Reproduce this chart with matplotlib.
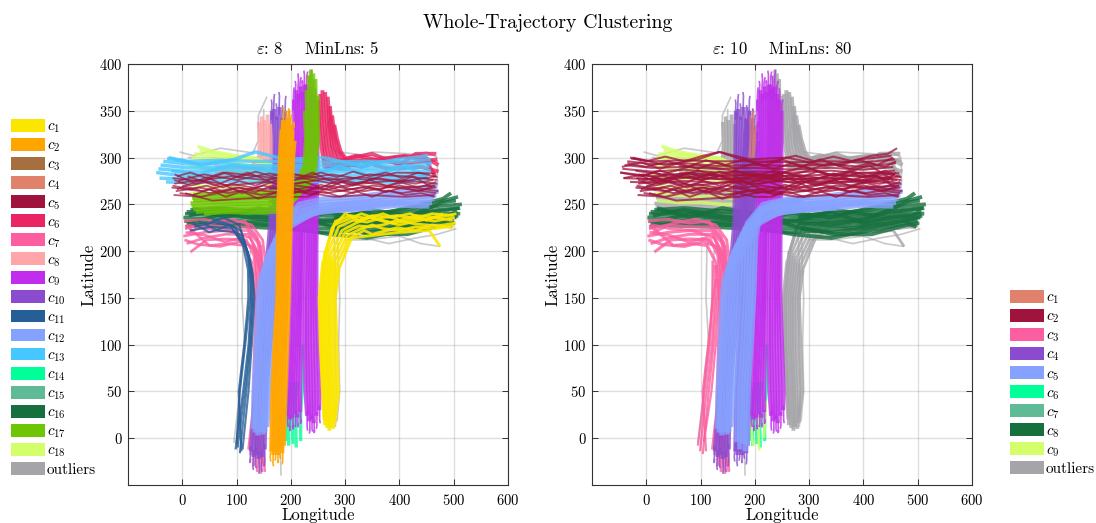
import matplotlib
matplotlib.use("Agg")
import matplotlib.pyplot as plt
from matplotlib.patches import Patch

plt.rcParams['font.family'] = ['cmr10', 'DejaVu Serif']
plt.rcParams['mathtext.fontset'] = 'cm'
plt.rcParams['axes.formatter.use_mathtext'] = True
plt.rcParams['axes.unicode_minus'] = False

# trajectories, (longitude, latitude)
magenta_a = [
    [(206, 362), (207, 300), (204, 200), (202, 150), (199, 100), (195, 50), (194, 24)],
    [(210, 372), (211, 300), (208, 200), (206, 150), (203, 100), (199, 50), (198, 20)],
    [(214, 368), (214, 300), (212, 200), (210, 150), (207, 100), (203, 50), (203, 22)],
    [(218, 376), (218, 300), (216, 200), (214, 150), (211, 100), (207, 50), (208, 26)],
    [(222, 370), (222, 300), (219, 200), (217, 150), (215, 100), (212, 50), (212, 22)],
    [(226, 378), (225, 300), (222, 200), (220, 150), (219, 100), (217, 50), (217, 28)],
]
magenta_b = [
    [(229, 378), (229, 300), (228, 200), (226, 150), (226, 100), (227, 50), (230, 24)],
    [(233, 374), (233, 300), (232, 200), (230, 150), (230, 100), (232, 50), (234, 18)],
    [(237, 376), (237, 300), (236, 200), (235, 150), (235, 100), (237, 50), (238, 20)],
    [(241, 368), (241, 300), (240, 200), (239, 150), (240, 100), (242, 50), (242, 16)],
    [(245, 362), (245, 300), (244, 200), (243, 150), (245, 100), (247, 50), (247, 24)],
    [(249, 350), (249, 300), (247, 200), (247, 150), (250, 100), (253, 50), (252, 30)],
]
magenta_tips = [
    [(204, 350), (205, 368), (206, 375)], [(208, 362), (209, 378), (208, 382)],
    [(212, 358), (214, 384), (213, 390)], [(216, 362), (217, 380), (219, 386)],
    [(220, 362), (221, 382), (222, 379)], [(224, 366), (225, 388), (224, 393)],
    [(228, 366), (229, 386), (231, 392)], [(232, 362), (233, 382), (232, 387)],
    [(236, 366), (237, 388), (238, 394)], [(240, 358), (241, 378), (243, 382)],
    [(244, 350), (246, 368), (245, 374)], [(249, 340), (250, 358), (252, 362)],
    [(195, 30), (194, 18), (195, 12)], [(199, 25), (198, 8), (199, 14)],
    [(204, 26), (204, 10), (205, 14)], [(209, 28), (209, 15), (208, 12)],
    [(213, 26), (213, 12), (214, 16)], [(218, 30), (218, 16), (219, 20)],
    [(230, 30), (230, 12), (231, 8)], [(235, 22), (235, 8), (234, 5)],
    [(239, 25), (239, 10), (240, 7)], [(243, 20), (243, 6), (244, 9)],
    [(248, 28), (248, 14), (247, 10)], [(253, 35), (253, 20), (254, 16)],
]
orange_lines = [
    [(183, 330), (180, 300), (177, 250), (176, 200), (175, 150), (170, 100), (166, 50), (164, -14)],
    [(187, 340), (184, 300), (181, 250), (180, 200), (178, 150), (173, 100), (169, 50), (168, -18)],
    [(191, 336), (188, 300), (185, 250), (184, 200), (182, 150), (177, 100), (173, 50), (172, -14)],
    [(195, 342), (192, 300), (189, 250), (188, 200), (185, 150), (181, 100), (177, 50), (176, -18)],
    [(199, 334), (196, 300), (193, 250), (191, 200), (188, 150), (185, 100), (181, 50), (180, -10)],
    [(203, 328), (200, 300), (197, 250), (195, 200), (192, 150), (189, 100), (185, 50), (184, -16)],
    [(207, 318), (204, 300), (201, 250), (198, 200), (196, 150), (193, 100), (190, 50), (187, -8)],
]
orange_tips = [
    [(182, 320), (183, 340), (184, 336)], [(186, 330), (187, 350), (186, 354)],
    [(190, 325), (192, 346), (191, 350)], [(195, 330), (196, 352), (198, 348)],
    [(199, 325), (200, 342), (201, 346)], [(204, 320), (205, 338), (206, 332)],
    [(164, -5), (162, -20), (163, -25)], [(168, -8), (167, -26), (168, -30)],
    [(173, -5), (172, -20), (171, -24)], [(177, -10), (176, -26), (177, -24)],
    [(181, -2), (180, -18), (181, -22)], [(185, -5), (185, -24), (184, -28)],
]
peri_turn = [
    [(470, 270), (400, 264), (320, 258), (260, 256), (215, 250), (186, 230), (174, 190), (170, 150), (165, 100), (160, 50), (156, 12)],
    [(472, 264), (400, 260), (320, 254), (260, 252), (212, 245), (181, 224), (168, 186), (165, 150), (160, 100), (155, 50), (152, 6)],
    [(468, 260), (400, 256), (320, 252), (258, 249), (208, 241), (176, 218), (163, 184), (160, 150), (155, 100), (151, 50), (148, 4)],
    [(464, 256), (400, 253), (320, 250), (256, 246), (205, 237), (171, 212), (158, 180), (155, 150), (150, 100), (146, 50), (144, 7)],
    [(460, 252), (400, 251), (320, 247), (254, 244), (200, 233), (166, 206), (153, 176), (150, 150), (145, 100), (141, 50), (139, 3)],
    [(455, 248), (400, 249), (320, 245), (252, 242), (196, 229), (161, 200), (148, 172), (145, 150), (141, 100), (136, 50), (134, 6)],
    [(350, 246), (290, 244), (240, 240), (192, 224), (157, 194), (143, 168), (140, 150), (136, 100), (132, 50), (131, 10)],
]
peri_inner = [
    [(300, 258), (240, 252), (212, 245), (202, 215), (198, 150), (193, 100), (188, 50), (186, -8)],
    [(290, 255), (235, 250), (207, 240), (196, 212), (193, 150), (188, 100), (183, 50), (182, -14)],
    [(285, 252), (230, 248), (202, 236), (190, 208), (188, 150), (183, 100), (178, 50), (177, -6)],
    [(280, 250), (225, 246), (197, 232), (185, 205), (183, 150), (178, 100), (173, 50), (172, -12)],
    [(270, 248), (220, 244), (192, 228), (179, 200), (177, 150), (172, 100), (167, 50), (167, -4)],
]
purple_lines = [
    [(165, 350), (164, 300), (162, 230), (150, 150), (142, 100), (134, 50), (126, -14)],
    [(169, 352), (168, 300), (166, 230), (154, 150), (146, 100), (138, 50), (131, -20)],
    [(174, 344), (172, 300), (170, 230), (158, 150), (150, 100), (142, 50), (136, -18)],
    [(179, 354), (176, 300), (174, 230), (162, 150), (154, 100), (146, 50), (141, -22)],
    [(184, 342), (181, 300), (178, 230), (166, 150), (158, 100), (150, 50), (147, -20)],
    [(190, 350), (186, 300), (182, 230), (170, 150), (162, 100), (154, 50), (152, -12)],
]
purple_tips = [
    [(164, 340), (165, 358), (164, 362)], [(168, 342), (169, 364), (170, 368)],
    [(173, 340), (174, 352), (173, 358)], [(178, 345), (179, 366), (178, 370)],
    [(183, 338), (184, 350), (185, 356)], [(189, 340), (190, 362), (191, 366)],
    [(126, -8), (125, -26), (126, -22)], [(131, -12), (130, -30), (131, -34)],
    [(136, -10), (135, -28), (136, -32)], [(141, -14), (142, -34), (141, -38)],
    [(147, -12), (146, -30), (147, -36)], [(152, -6), (152, -24), (151, -30)],
]
blue_turn = [
    [(22, 226), (60, 231), (95, 226), (115, 210), (124, 180), (127, 150), (122, 100), (112, 50), (98, -12)],
    [(14, 222), (55, 226), (92, 224), (118, 204), (128, 180), (129, 150), (124, 100), (115, 50), (102, -10)],
    [(30, 232), (65, 222), (100, 220), (120, 200), (130, 175), (131, 150), (126, 100), (118, 50), (106, -16)],
    [(42, 228), (75, 236), (105, 228), (122, 195), (126, 170), (125, 150), (116, 100), (106, 50), (100, -6)],
    [(18, 230), (50, 220), (88, 228), (112, 206), (121, 180), (122, 150), (114, 100), (104, 50), (109, -14)],
    [(55, 234), (85, 229), (108, 222), (125, 190), (131, 165), (133, 150), (128, 100), (122, 50), (111, -12)],
]
pink_turn = [
    [(3, 232), (40, 234), (80, 230), (115, 232), (138, 215), (146, 180), (144, 100), (135, 30), (126, -18)],
    [(5, 224), (40, 228), (80, 226), (118, 226), (142, 210), (150, 170), (147, 100), (138, 30), (132, -30)],
    [(2, 216), (40, 220), (80, 222), (120, 222), (145, 205), (152, 160), (150, 100), (142, 30), (138, -36)],
    [(8, 208), (40, 214), (80, 218), (122, 218), (138, 200), (143, 160), (142, 100), (140, 30), (145, -38)],
    [(15, 199), (45, 212), (80, 213), (118, 212), (132, 195), (137, 160), (137, 100), (133, 30), (150, -30)],
    [(6, 228), (50, 206), (85, 208), (112, 206), (128, 188), (135, 150), (133, 100), (130, 30), (122, -12)],
    [(12, 220), (50, 230), (90, 234), (128, 228), (148, 212), (155, 180), (153, 100), (145, 30), (152, -36)],
    [(4, 212), (30, 207), (70, 205), (105, 210), (130, 205), (148, 170), (146, 120), (136, 50), (135, -22)],
    [(10, 228), (45, 224), (85, 222), (125, 214), (141, 195), (147, 150)],
    [(6, 220), (42, 217), (78, 210), (110, 214), (134, 200), (140, 150)],
]
pink_south = [
    [(122, 190), (122, 150), (117, 100), (107, 50), (95, -8)],
    [(126, 185), (126, 150), (121, 100), (111, 50), (99, -14)],
    [(130, 185), (129, 150), (124, 100), (115, 50), (104, -17)],
    [(128, 170), (123, 150), (114, 100), (104, 50), (110, -14)],
    [(133, 170), (132, 150), (128, 100), (120, 50), (106, -4)],
]
pale_lines = [
    [(141, 338), (143, 320), (141, 300), (120, 285), (60, 285)],
    [(146, 344), (148, 320), (146, 298), (120, 288), (60, 290)],
    [(151, 340), (153, 320), (152, 296), (125, 284), (60, 280)],
    [(157, 346), (158, 320), (158, 294), (130, 286), (70, 286)],
    [(162, 336), (163, 320), (163, 292), (130, 282), (70, 282)],
]
yellow_turn = [
    [(505, 240), (470, 236), (430, 238), (400, 233), (370, 240), (340, 235), (310, 238), (282, 232), (264, 200)],
    [(502, 236), (465, 232), (430, 235), (395, 238), (370, 236), (340, 231), (315, 233), (288, 226), (268, 198)],
    [(498, 233), (465, 236), (430, 232), (400, 228), (370, 232), (345, 236), (320, 230), (294, 222), (272, 195)],
    [(504, 230), (470, 227), (430, 229), (395, 233), (370, 228), (345, 226), (325, 227), (300, 220), (276, 192)],
    [(500, 227), (465, 224), (430, 226), (400, 222), (370, 224), (350, 228), (330, 224), (304, 217), (280, 188)],
    [(496, 225), (460, 228), (430, 222), (395, 225), (370, 221), (350, 218), (335, 222), (308, 214), (284, 185)],
    [(480, 240), (450, 233), (420, 240), (385, 236), (350, 238), (325, 233), (300, 240), (276, 225), (260, 190)],
    [(500, 238), (460, 240), (425, 234), (390, 230), (360, 234), (330, 240), (305, 234), (280, 228), (262, 196)],
    [(475, 205), (455, 222), (400, 220), (340, 216), (312, 214), (288, 180)],
]
yellow_south = [
    [(264, 200), (256, 150), (256, 100), (261, 50), (263, 14)],
    [(268, 198), (260, 150), (260, 100), (265, 50), (267, 11)],
    [(272, 195), (264, 150), (264, 100), (269, 50), (271, 8)],
    [(276, 192), (268, 150), (268, 100), (272, 50), (274, 12)],
    [(280, 188), (272, 150), (272, 100), (276, 50), (278, 10)],
    [(284, 185), (277, 150), (277, 100), (281, 50), (281, 16)],
    [(260, 190), (253, 150), (255, 100), (259, 50), (262, 20)],
    [(288, 180), (281, 150), (284, 100), (287, 50), (281, 22)],
]
green_lines = [
    [(229, 372), (231, 320), (228, 290), (205, 264), (150, 263), (90, 262), (20, 260)],
    [(233, 388), (235, 320), (232, 288), (208, 260), (150, 260), (90, 259), (18, 257)],
    [(237, 394), (239, 320), (235, 285), (210, 257), (150, 257), (90, 256), (20, 254)],
    [(241, 390), (243, 320), (238, 282), (205, 254), (150, 254), (90, 253), (15, 251)],
    [(245, 384), (247, 320), (241, 280), (200, 251), (150, 251), (90, 250), (17, 248)],
    [(249, 366), (250, 320), (243, 278), (195, 248), (150, 248), (90, 247), (20, 245)],
    [(226, 350), (228, 320), (225, 292), (190, 245), (150, 245), (90, 244), (25, 242)],
    [(200, 246), (170, 242), (120, 241), (80, 242), (40, 240)],
]
crimson_north = [
    [(250, 360), (253, 330), (258, 305), (262, 290), (300, 288)],
    [(254, 368), (257, 335), (262, 308), (268, 290), (310, 290)],
    [(258, 372), (261, 340), (266, 310), (274, 292), (320, 292)],
    [(263, 370), (266, 340), (271, 312), (280, 292), (330, 296), (380, 288), (440, 290), (472, 285)],
    [(268, 365), (271, 335), (276, 312), (286, 296), (320, 302), (370, 296), (420, 294), (470, 298)],
    [(272, 355), (275, 330), (281, 310), (292, 296), (330, 290), (390, 300), (440, 302), (472, 292)],
    [(276, 345), (280, 325), (287, 308), (298, 298), (350, 304), (400, 292), (430, 304), (468, 304)],
    [(280, 335), (285, 320), (292, 306), (305, 296), (360, 298), (410, 302), (450, 296), (466, 280)],
]
sky_band = [
    [(-48, 284), (10, 280), (70, 283), (130, 280), (200, 282), (270, 280), (340, 282), (400, 279), (456, 283)],
    [(-44, 288), (10, 285), (70, 287), (130, 284), (200, 285), (270, 284), (340, 286), (400, 283), (458, 286)],
    [(-40, 292), (10, 289), (70, 290), (130, 288), (200, 289), (270, 287), (340, 289), (400, 287), (455, 290)],
    [(-35, 296), (10, 293), (70, 294), (130, 291), (200, 292), (270, 291), (340, 293), (400, 290), (460, 294)],
    [(-28, 299), (10, 296), (70, 297), (130, 296), (200, 296), (270, 295), (340, 296), (400, 295), (458, 298)],
    [(-42, 278), (10, 277), (70, 279), (130, 277), (200, 278), (270, 277), (340, 278), (400, 276), (452, 280)],
    [(-30, 274), (15, 273), (70, 275), (130, 273), (200, 275), (270, 274), (340, 275), (400, 273), (450, 277)],
    [(-20, 286), (30, 282), (90, 292), (150, 287), (220, 279), (290, 290), (350, 280), (410, 292), (455, 276)],
    [(-25, 300), (35, 292), (95, 298), (135, 306), (190, 298), (260, 300), (330, 291), (395, 298), (452, 302)],
]
crimson_band = [
    [(-18, 278), (30, 275), (90, 280), (150, 276), (210, 282), (270, 276), (330, 279), (400, 274), (468, 280)],
    [(-15, 272), (30, 276), (90, 270), (150, 274), (210, 272), (270, 278), (330, 272), (400, 276), (470, 272)],
    [(-20, 268), (35, 264), (90, 272), (150, 266), (210, 270), (270, 266), (330, 274), (400, 268), (465, 270)],
    [(-12, 264), (30, 268), (85, 262), (150, 270), (205, 262), (270, 270), (335, 264), (400, 270), (472, 264)],
    [(-16, 260), (35, 258), (95, 266), (145, 260), (210, 266), (265, 262), (330, 268), (405, 262), (468, 268)],
    [(-8, 275), (40, 282), (100, 276), (160, 283), (220, 278), (280, 272), (345, 282), (410, 280), (470, 276)],
    [(-14, 282), (25, 272), (80, 284), (140, 280), (205, 276), (275, 282), (340, 276), (395, 284), (466, 283)],
    [(0, 270), (50, 262), (100, 268), (170, 263), (230, 268), (290, 264), (350, 270), (420, 266), (468, 262)],
    [(5, 262), (55, 254), (110, 256), (170, 258), (215, 264), (280, 258), (340, 260), (410, 258), (465, 260)],
    [(10, 280), (60, 270), (120, 284), (180, 270), (240, 284), (300, 268), (360, 278), (430, 272), (462, 276)],
    [(-10, 266), (45, 279), (110, 262), (175, 276), (235, 260), (295, 274), (365, 266), (425, 280), (460, 268)],
]
crimson_extra = [
    [(-15, 276), (15, 270), (45, 274), (75, 268), (105, 275), (135, 270), (165, 277), (195, 271), (225, 274), (255, 268), (285, 275), (315, 270), (345, 276), (375, 270), (405, 273), (435, 268), (468, 274)],
    [(-18, 270), (15, 266), (45, 270), (75, 264), (105, 268), (135, 263), (165, 270), (195, 265), (225, 262), (255, 271), (285, 266), (315, 262), (345, 268), (375, 263), (405, 268), (435, 264), (466, 270)],
    [(-10, 280), (15, 284), (45, 278), (75, 284), (105, 279), (135, 285), (165, 280), (195, 284), (225, 279), (255, 284), (285, 279), (315, 285), (345, 280), (375, 284), (405, 278), (435, 284), (470, 279)],
    [(-5, 262), (20, 260), (50, 266), (80, 258), (110, 264), (140, 256), (170, 262), (200, 258), (230, 258), (260, 264), (290, 258), (320, 264), (350, 258), (380, 265), (410, 260), (440, 262), (465, 258)],
]
crimson_upper = [
    [(-45, 290), (-10, 295), (25, 288), (60, 294), (95, 288), (130, 295), (165, 288), (200, 294), (235, 288), (270, 294), (305, 288), (340, 294), (375, 288), (410, 294), (440, 290), (460, 296)],
    [(-48, 284), (-10, 280), (25, 286), (60, 280), (95, 286), (130, 281), (165, 286), (200, 280), (235, 286), (270, 282), (305, 287), (340, 281), (375, 286), (410, 280), (440, 286), (458, 282)],
    [(-30, 300), (0, 296), (35, 301), (70, 296), (105, 302), (135, 306), (170, 299), (205, 294), (240, 297), (275, 302), (310, 296), (345, 301), (380, 296), (415, 302), (445, 304), (462, 310)],
    [(-42, 278), (-5, 282), (30, 276), (65, 283), (100, 276), (135, 280), (170, 275), (205, 282), (240, 275), (275, 280), (310, 276), (345, 283), (380, 276), (415, 282), (445, 276), (460, 284)],
    [(-35, 294), (0, 290), (40, 296), (75, 290), (110, 297), (145, 292), (180, 298), (215, 291), (250, 298), (285, 290), (320, 298), (355, 291), (390, 298), (425, 292), (455, 300)],
]
dark_green_band = [
    [(8, 242), (60, 242), (120, 240), (180, 238), (260, 234), (330, 236), (400, 240), (470, 248), (515, 250)],
    [(5, 240), (60, 238), (120, 236), (180, 236), (260, 232), (330, 232), (400, 236), (470, 244), (510, 246)],
    [(2, 236), (60, 234), (120, 232), (180, 232), (260, 228), (330, 230), (400, 232), (470, 240), (512, 240)],
    [(4, 232), (60, 230), (120, 228), (180, 228), (260, 224), (330, 226), (400, 228), (470, 236), (505, 236)],
    [(10, 228), (60, 227), (120, 226), (180, 224), (260, 220), (330, 222), (400, 226), (470, 232), (500, 232)],
    [(15, 244), (70, 246), (130, 243), (190, 241), (265, 238), (340, 240), (410, 244), (470, 252), (508, 258)],
    [(12, 238), (70, 244), (130, 238), (190, 233), (270, 241), (340, 236), (410, 246), (480, 256), (495, 262)],
    [(6, 226), (70, 232), (130, 230), (190, 226), (270, 218), (340, 214), (410, 222), (480, 230), (498, 226)],
    [(20, 246), (80, 236), (140, 246), (200, 240), (275, 226), (345, 218), (415, 218), (480, 228), (502, 230)],
    [(8, 230), (80, 240), (140, 234), (200, 230), (275, 232), (350, 244), (420, 238), (480, 252), (504, 254)],
    [(280, 230), (340, 228), (400, 234), (450, 242), (490, 244), (512, 246)],
    [(280, 236), (340, 242), (400, 230), (450, 236), (490, 238), (506, 243)],
    [(285, 224), (340, 220), (400, 224), (450, 230), (490, 234), (508, 238)],
]
lime_lines = [
    [(28, 312), (60, 306), (100, 302), (140, 298), (165, 290)],
    [(32, 308), (65, 304), (105, 300), (145, 294), (165, 285)],
    [(22, 304), (60, 302), (100, 298), (130, 300), (165, 292)],
    [(18, 300), (60, 298), (100, 294), (140, 290), (165, 280)],
    [(15, 292), (50, 288), (100, 286), (140, 284), (165, 275)],
    [(10, 282), (50, 278), (100, 278), (140, 276), (165, 270)],
    [(12, 272), (50, 268), (100, 268), (140, 266), (165, 262)],
    [(14, 262), (50, 260), (100, 258), (140, 258), (165, 256)],
    [(20, 254), (60, 252), (100, 252), (140, 250), (165, 250)],
]
spring_lines = [
    [(200, 60), (196, 40), (190, 30), (190, -3)],
    [(204, 60), (198, 40), (195, 30), (196, -8)],
    [(210, 60), (204, 40), (202, 30), (204, -6)],
    [(214, 60), (208, 40), (208, 30), (210, -10)],
    [(222, 100), (222, 60), (218, 30), (218, -3)],
]
lime_south = [
    [(193, 20), (195, -2), (198, -8)],
    [(206, 25), (207, 0), (208, -13)],
    [(220, 40), (218, 10), (216, 0)],
]
salmon_lines = [
    [(192, 345), (192, 320), (190, 300)],
    [(197, 350), (197, 320), (195, 300)],
    [(202, 335), (200, 320), (198, 300)],
]
grey_lines = [
    [(-5, 306), (20, 302), (70, 310), (130, 305), (140, 318), (140, 345), (156, 365)],
    [(10, 300), (60, 300), (120, 298), (150, 302), (150, 352)],
    [(290, 306), (340, 302), (400, 300), (450, 306), (470, 300)],
    [(300, 298), (350, 306), (420, 304), (470, 296), (470, 270)],
    [(300, 212), (340, 212), (400, 216), (440, 208), (475, 205)],
    [(310, 218), (380, 208), (430, 214), (470, 218), (505, 224)],
    [(285, 225), (290, 150), (288, 100), (290, 50), (285, 18)],
    [(280, 220), (283, 150), (281, 100), (284, 50), (282, 12)],
    [(112, 210), (110, 150), (115, 100), (106, 50), (95, -5)],
    [(125, 200), (118, 120), (108, 70), (100, -12)],
    [(180, 20), (181, -20), (182, -40)],
    [(262, 320), (270, 340), (274, 350), (272, 320), (278, 300), (295, 296)],
]

colors_left = ['#FBE600', '#FFA500', '#A66F3F', '#E0816B', '#A0133D', '#EA2563',
               '#FC5E9F', '#FFA7A8', '#C02DEC', '#8A4BCF', '#265E97', '#86A2FF',
               '#47C7FF', '#00FF99', '#5FBB96', '#15703D', '#6EC504', '#D4FF6A',
               '#A5A5A9']
colors_right = ['#E0816B', '#A0133D', '#FC5E9F', '#8A4BCF', '#86A2FF', '#00FF99',
                '#5FBB96', '#15703D', '#D4FF6A', '#A5A5A9']
labels_left = [f'$c_{{{i}}}$' for i in range(1, 19)] + ['outliers']
labels_right = [f'$c_{{{i}}}$' for i in range(1, 10)] + ['outliers']
x_ticks = [0, 100, 200, 300, 400, 500, 600]
y_ticks = [0, 50, 100, 150, 200, 250, 300, 350, 400]

GREY = '#A5A5A9'
MAGENTA = '#C02DEC'
PURPLE = '#8A4BCF'
PERI = '#86A2FF'
CRIMSON = '#A0133D'
PINK = '#FC5E9F'

def draw(ax, lines, color, lw=2.2, alpha=0.8):
    for line in lines:
        ax.plot([p[0] for p in line], [p[1] for p in line], color=color, lw=lw,
                alpha=alpha, solid_joinstyle='round', solid_capstyle='butt')

def setup(ax, title):
    ax.set_xlim(-100, 600)
    ax.set_ylim(-50, 400)
    ax.set_xticks(x_ticks)
    ax.set_yticks(y_ticks)
    ax.tick_params(direction='in', length=4, width=0.7, top=True, right=True,
                   labelsize=10.5, color='#333333', pad=6)
    ax.tick_params(axis='y', pad=4)
    ax.grid(True, color='#262626', alpha=0.15, lw=1.0)
    ax.set_axisbelow(True)
    for s in ax.spines.values():
        s.set_linewidth(0.8)
        s.set_color('#333333')
    ax.set_xlabel('Longitude', fontsize=12, labelpad=-1)
    ax.set_ylabel('Latitude', fontsize=12, labelpad=2)
    ax.set_title(title, fontsize=12, pad=7)

W, H = 1096, 523
fig = plt.figure(figsize=(W / 100, H / 100), dpi=100)
ax1 = fig.add_axes([128 / W, 1 - 485 / H, 380 / W, 421 / H])
ax2 = fig.add_axes([592 / W, 1 - 485 / H, 380 / W, 421 / H])

# left panel, back to front
draw(ax1, grey_lines, GREY, 1.2, 0.6)
draw(ax1, dark_green_band, '#15703D', 2.6)
draw(ax1, pink_turn, PINK, 1.9)
draw(ax1, blue_turn, '#265E97', 1.5)
draw(ax1, purple_lines, PURPLE, 2.8)
draw(ax1, purple_tips, PURPLE, 1.2)
draw(ax1, pale_lines, '#FFA7A8', 2.8)
draw(ax1, spring_lines, '#00FF99', 2.4)
draw(ax1, magenta_a, MAGENTA, 3.0)
draw(ax1, magenta_b, MAGENTA, 3.0)
draw(ax1, magenta_tips, MAGENTA, 1.2)
draw(ax1, crimson_north, '#EA2563', 2.8)
draw(ax1, lime_lines, '#D4FF6A', 2.4)
draw(ax1, sky_band, '#47C7FF', 2.5)
draw(ax1, green_lines, '#6EC504', 3.0)
draw(ax1, peri_turn, PERI, 3.6)
draw(ax1, crimson_band, CRIMSON, 1.3, 0.7)
draw(ax1, crimson_extra, CRIMSON, 1.3, 0.7)
draw(ax1, salmon_lines, '#E0816B', 1.5)
draw(ax1, orange_lines, '#FFA500', 3.0, 0.9)
draw(ax1, orange_tips, '#FFA500', 1.2, 0.9)
draw(ax1, yellow_turn, '#FBE600', 2.0, 0.9)
draw(ax1, yellow_south, '#FBE600', 2.8, 0.9)

# right panel, same bundles grouped differently
draw(ax2, grey_lines, GREY, 1.2, 0.6)
draw(ax2, pale_lines, GREY, 2.8)
draw(ax2, crimson_north, GREY, 3.0)
draw(ax2, yellow_turn, GREY, 2.0)
draw(ax2, yellow_south, GREY, 2.8)
draw(ax2, green_lines, GREY, 2.4)
draw(ax2, lime_lines, '#D4FF6A', 2.6)
draw(ax2, dark_green_band, '#15703D', 2.8)
draw(ax2, pink_turn, PINK, 2.2)
draw(ax2, pink_south, PINK, 1.6)
draw(ax2, spring_lines, '#00FF99', 2.4)
draw(ax2, lime_south, '#D4FF6A', 2.0)
draw(ax2, purple_lines, PURPLE, 2.8)
draw(ax2, purple_tips, PURPLE, 1.2)
draw(ax2, orange_lines, PURPLE, 3.0)
draw(ax2, orange_tips, PURPLE, 1.2)
draw(ax2, salmon_lines, '#E0816B', 1.5)
draw(ax2, magenta_a, MAGENTA, 3.0)
draw(ax2, magenta_b, MAGENTA, 3.0)
draw(ax2, magenta_tips, MAGENTA, 1.2)
draw(ax2, peri_inner, PERI, 3.6)
draw(ax2, peri_turn, PERI, 3.6)
draw(ax2, sky_band, CRIMSON, 1.5, 0.75)
draw(ax2, crimson_upper, CRIMSON, 1.5, 0.75)
draw(ax2, crimson_band, CRIMSON, 1.5, 0.75)
draw(ax2, crimson_extra, CRIMSON, 1.5, 0.75)

setup(ax1, r'$\varepsilon$: 8    MinLns: 5')
setup(ax2, r'$\varepsilon$: 10    MinLns: 80')
fig.text(548 / W, 1 - 23 / H, 'Whole-Trajectory Clustering', fontsize=14.3,
         ha='center', va='center')

handles_left = [Patch(color=c, lw=0) for c in colors_left]
handles_right = [Patch(color=c, lw=0) for c in colors_right]
leg_style = dict(frameon=False, fontsize=11, handlelength=2.23, handleheight=0.92,
                 handletextpad=0.1, labelspacing=0.18, borderpad=0, borderaxespad=0)
fig.legend(handles_left, labels_left, loc='upper left',
           bbox_to_anchor=(11 / W, 1 - 119 / H), **leg_style)
fig.legend(handles_right, labels_right, loc='upper left',
           bbox_to_anchor=(1010 / W, 1 - 290 / H), **leg_style)

fig.savefig('out.png', dpi=100)
